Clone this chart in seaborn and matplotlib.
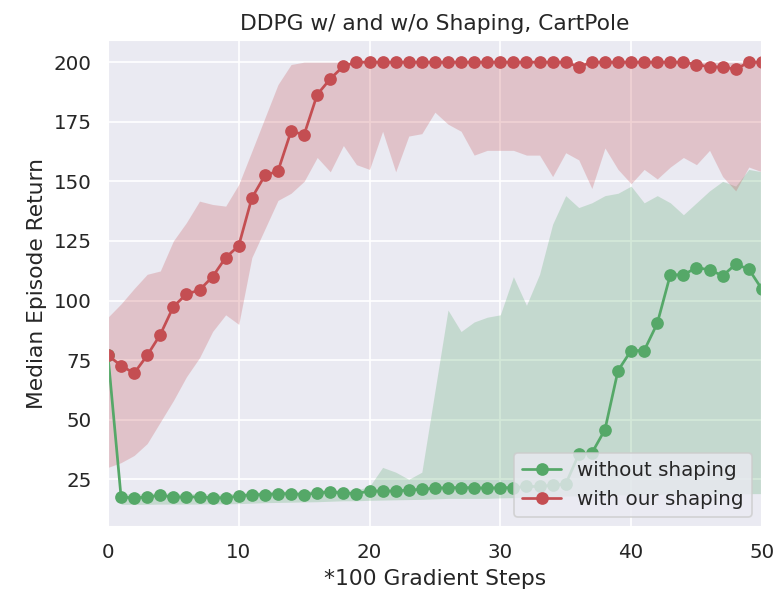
import matplotlib
matplotlib.use("Agg")
import matplotlib.pyplot as plt
import numpy as np
import pandas as pd
import seaborn as sns

# Gradient steps (x100)
steps = list(range(51))

# Median return, with our shaping
with_median = [77, 72.7, 69.5, 77, 85.7, 97.4, 102.7, 104.4, 110, 118, 123,
               143, 152.5, 154.3, 171, 169.6, 186.4, 193, 198.3, 200, 200,
               200, 200, 200, 200, 200, 200, 200, 200, 200, 200,
               200, 200, 200, 200, 200, 198, 200, 200, 200, 200,
               200, 200, 200, 200, 199, 198, 198, 197, 200, 200]
with_low = [30, 32, 35, 40, 49, 58, 68, 76, 87, 94, 90,
            118, 130, 142, 145, 150, 160, 154, 165, 157, 155,
            171, 154, 169, 170, 179, 174, 171, 161, 163, 163,
            163, 161, 161, 152, 162, 159, 147, 164, 155, 149,
            155, 151, 156, 160, 157, 163, 152, 146, 156, 154]
with_high = [93, 98.6, 105, 111, 112.4, 125, 132.7, 141.7, 140.3, 139.6, 148.7,
             162.6, 176.6, 190.6, 199, 200, 200, 200, 200, 200, 200,
             200, 200, 200, 200, 200, 200, 200, 200, 200, 200,
             200, 200, 200, 200, 200, 200, 200, 200, 200, 200,
             200, 200, 200, 200, 200, 200, 200, 200, 200, 200]

# Median return, without shaping
without_median = [77, 17.6, 17.2, 17.6, 18.3, 17.6, 17.6, 17.6, 17.3, 17.3, 17.9,
                  18.6, 18.6, 19.0, 19.0, 18.6, 19.3, 19.7, 19.3, 19.0, 20.1,
                  20.1, 20.1, 20.5, 20.8, 21.3, 21.5, 21.5, 21.5, 21.3, 21.5,
                  21.5, 22, 22, 22.5, 23, 35.5, 36, 45.8, 70.6, 79,
                  79, 90.4, 110.8, 110.8, 113.8, 112.9, 110.4, 115.2, 113.2, 104.8]
without_low = [75, 14.5, 14.5, 14.5, 14.6, 14.6, 14.6, 14.6, 14.7, 14.7, 14.8,
               15, 15.2, 15.3, 15.4, 15.5, 15.6, 15.8, 16, 16, 16.2,
               16.3, 16.4, 16.5, 16.6, 16.8, 17, 17, 17, 17, 17.2,
               17.3, 17.5, 17.6, 17.8, 18, 18, 18.2, 18.3, 18.5, 18.5,
               18.6, 18.7, 18.8, 18.9, 19, 19, 19, 19, 19, 19]
without_high = [79, 19, 18.8, 19, 19.5, 19, 19, 19, 18.8, 18.8, 19.3,
                19.8, 19.8, 20.2, 20.2, 19.8, 20.5, 21, 20.5, 20.5, 22,
                30, 28, 25, 28, 62, 96, 87, 91, 93, 94,
                110, 98, 111, 132, 144, 139, 141, 144, 145, 148,
                141, 144, 141, 136, 141, 146, 150, 148, 155, 154]

sns.set_theme(style="darkgrid", font_scale=1.07)
green = sns.color_palette("deep")[2]
red = sns.color_palette("deep")[3]

fig = plt.figure(figsize=(779 / 122, 595 / 122), dpi=122)
ax = fig.add_axes([0.1386, 0.1143, 0.978 - 0.1386, 0.9328 - 0.1143])

df = pd.DataFrame({"step": steps, "without": without_median, "with": with_median})

ax.fill_between(steps, without_low, without_high, color=green, alpha=0.25, linewidth=0)
ax.fill_between(steps, with_low, with_high, color=red, alpha=0.25, linewidth=0)

sns.lineplot(data=df, x="step", y="without", ax=ax, color=green, marker="o",
             markersize=7.5, markeredgewidth=0, linewidth=1.6, label="without shaping")
sns.lineplot(data=df, x="step", y="with", ax=ax, color=red, marker="o",
             markersize=7.5, markeredgewidth=0, linewidth=1.6, label="with our shaping")

ax.set_xlim(0, 50)
ax.set_ylim(5, 209.3)
ax.set_xticks([0, 10, 20, 30, 40, 50])
ax.set_yticks([25, 50, 75, 100, 125, 150, 175, 200])
ax.set_xlabel("*100 Gradient Steps")
ax.set_ylabel("Median Episode Return")
ax.set_title("DDPG w/ and w/o Shaping, CartPole")
ax.legend(loc="lower right", frameon=True)

fig.savefig("out.png", dpi=122)
